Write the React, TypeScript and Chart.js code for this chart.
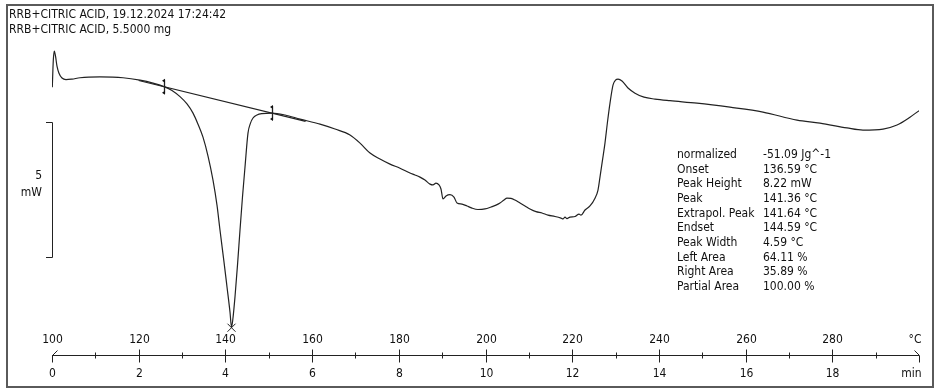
import React, { useEffect, useRef } from 'react';
import { Chart, registerables } from 'chart.js';

Chart.register(...registerables);

// ---- data (temperature in °C, heat flow in mW, endothermic down) ----
const temperatureC = [
  100.07, 100.3, 100.53, 100.81, 101.15, 101.61, 102.31, 103.23, 104.61, 106.46,
  111.07, 116.38, 120.3, 123.3, 125.84, 127.68, 129.53, 131.14, 132.53, 133.68,
  134.83, 135.99, 137.14, 138.06, 138.75, 139.68, 140.37, 141.06, 141.41, 141.75,
  142.21, 142.79, 143.37, 143.94, 144.52, 145.21, 145.79, 146.37, 147.29, 148.44,
  150.75, 153.75, 157.21, 161.82, 165.28, 168.74, 171.05, 173.36, 175.66, 177.97,
  180.28, 182.58, 183.74, 184.89, 186.04, 187.2, 187.89, 188.58, 189.27, 189.73,
  190.2, 190.89, 191.81, 192.73, 193.43, 194.58, 195.73, 196.89, 198.27, 199.88,
  201.27, 202.42, 203.34, 204.27, 204.96, 205.88, 206.8, 207.96, 209.11, 210.26,
  211.65, 213.03, 214.42, 216.03, 217.42, 217.88, 218.34, 218.8, 219.49, 220.65,
  221.57, 222.03, 222.95, 224.1, 225.26, 225.95, 226.41, 226.99, 227.56, 228.14,
  228.72, 229.41, 229.99, 230.57, 231.49, 232.87, 234.49, 236.57, 239.1, 242.56,
  248.79, 256.4, 264.01, 271.86, 277.16, 283.39, 287.08, 291.7, 294.93, 297.92,
  300.0,
];
const heatFlowMW = [
  9.81, 10.81, 11.15, 10.96, 10.59, 10.33, 10.15, 10.09, 10.11, 10.16,
  10.19, 10.16, 10.07, 9.96, 9.83, 9.69, 9.46, 9.19, 8.85, 8.44,
  7.96, 7.26, 6.37, 5.44, 4.52, 3.33, 2.41, 1.48, 0.92, 1.26,
  2.04, 3.22, 4.52, 5.74, 6.85, 8.11, 8.48, 8.67, 8.78, 8.83,
  8.85, 8.78, 8.63, 8.44, 8.26, 8.04, 7.74, 7.37, 7.15, 6.96,
  6.81, 6.63, 6.56, 6.48, 6.37, 6.22, 6.19, 6.26, 6.19, 6.04,
  5.67, 5.78, 5.83, 5.74, 5.52, 5.48, 5.41, 5.33, 5.28, 5.3,
  5.37, 5.44, 5.52, 5.63, 5.7, 5.69, 5.63, 5.52, 5.41, 5.3,
  5.2, 5.15, 5.07, 5.02, 4.96, 4.93, 5.0, 4.94, 5.0, 5.02,
  5.11, 5.07, 5.26, 5.41, 5.7, 6.0, 6.48, 7.11, 7.74, 8.52,
  9.22, 9.89, 10.07, 10.11, 10.04, 9.78, 9.59, 9.44, 9.37, 9.31,
  9.22, 9.07, 8.89, 8.59, 8.48, 8.3, 8.22, 8.26, 8.41, 8.7,
  8.94,
];

// integration baseline and limits
const baselineT = [120, 158.5];
const baselineMW = [10.06, 8.545];
const limitT = [125.84, 150.75];
const limitMW = [9.83, 8.85];
const peakT = 141.41;
const peakMW = 0.9;

// axis ticks
const tempMin = 100;
const tempMax = 300;
const tempTickStep = 10;
const tempLabels = ['100', '120', '140', '160', '180', '200', '220', '240', '260', '280', '°C'];
const minuteLabels = ['0', '2', '4', '6', '8', '10', '12', '14', '16', '18', 'min'];
const heatingRate = 10; // K/min

// scale bar
const scaleBarStart = 3.52;
const scaleBarSpan = 5;
const scaleBarLabel = ['5', 'mW'];

// texts
const headerLines = ['RRB+CITRIC ACID, 19.12.2024 17:24:42', 'RRB+CITRIC ACID, 5.5000 mg'];
const resultNames = ['normalized', 'Onset', 'Peak Height', 'Peak', 'Extrapol. Peak', 'Endset', 'Peak Width', 'Left Area', 'Right Area', 'Partial Area'];
const resultValues = ['-51.09 Jg^-1', '136.59 °C', '8.22 mW', '141.36 °C', '141.64 °C', '144.59 °C', '4.59 °C', '64.11 %', '35.89 %', '100.00 %'];

const FONT = '12px Tahoma, "DejaVu Sans Condensed", "Liberation Sans", sans-serif';
const INK = '#222';

const decorPlugin = {
  id: 'decor',
  afterDraw(chart: any) {
    const { ctx, chartArea } = chart;
    const xs = chart.scales.x;
    const ys = chart.scales.y;
    ctx.save();
    // frame
    ctx.strokeStyle = '#5a5a5a';
    ctx.lineWidth = 2;
    ctx.strokeRect(7, 5, 926, 382);

    ctx.fillStyle = '#111';
    ctx.font = FONT;
    ctx.textBaseline = 'middle';
    ctx.textAlign = 'left';
    headerLines.forEach((t, i) => ctx.fillText(t, 9, 15 + i * 15));

    // results table
    resultNames.forEach((t, i) => {
      const yy = 155 + i * 14.65;
      ctx.fillText(t, 677, yy);
      ctx.fillText(resultValues[i], 763, yy);
    });

    // scale bar
    const sbx = xs.getPixelForValue(tempMin);
    const sbTop = ys.getPixelForValue(scaleBarStart + scaleBarSpan);
    const sbBot = ys.getPixelForValue(scaleBarStart);
    ctx.strokeStyle = INK;
    ctx.lineWidth = 1;
    ctx.beginPath();
    ctx.moveTo(sbx - 6, Math.round(sbTop) + 0.5);
    ctx.lineTo(sbx + 0.5, Math.round(sbTop) + 0.5);
    ctx.lineTo(sbx + 0.5, Math.round(sbBot) + 0.5);
    ctx.lineTo(sbx - 6, Math.round(sbBot) + 0.5);
    ctx.stroke();
    const mid = (sbTop + sbBot) / 2;
    ctx.textAlign = 'right';
    ctx.fillText(scaleBarLabel[0], sbx - 10, mid - 14);
    ctx.fillText(scaleBarLabel[1], sbx - 10, mid + 3);

    // x axis
    const axisY = Math.round(chartArea.bottom + 3) + 0.5;
    const x0 = xs.getPixelForValue(tempMin);
    const x1 = xs.getPixelForValue(tempMax);
    ctx.beginPath();
    ctx.moveTo(x0, axisY);
    ctx.lineTo(x1, axisY);
    ctx.stroke();
    let li = 0;
    for (let t = tempMin; t <= tempMax; t += tempTickStep) {
      const px = Math.round(xs.getPixelForValue(t)) + 0.5;
      const major = (t - tempMin) % (2 * tempTickStep) === 0;
      ctx.beginPath();
      if (t === tempMin || t === tempMax) {
        ctx.moveTo(px, axisY);
        ctx.lineTo(px, axisY + 7);
        const dir = t === tempMin ? 1 : -1;
        ctx.moveTo(px, axisY);
        ctx.lineTo(px + dir * 5, axisY - 5);
      } else if (major) {
        ctx.moveTo(px, axisY - 6);
        ctx.lineTo(px, axisY + 7);
      } else {
        ctx.moveTo(px, axisY - 3);
        ctx.lineTo(px, axisY + 3);
      }
      ctx.stroke();
      if (major) {
        ctx.textAlign = t === tempMax ? 'right' : 'center';
        const lx = t === tempMax ? px + 2 : px;
        ctx.fillText(tempLabels[li], lx, axisY - 16);
        // minute label at same position (time = (T - start) / heatingRate)
        const m = (t - tempMin) / heatingRate;
        const mlabel = minuteLabels[li] ?? String(m);
        ctx.fillText(mlabel, lx, axisY + 18);
        li++;
      }
    }

    // integration limit markers
    limitT.forEach((t, i) => {
      const px = Math.round(xs.getPixelForValue(t)) + 0.5;
      const py = ys.getPixelForValue(limitMW[i]);
      ctx.lineWidth = 1.3;
      ctx.beginPath();
      ctx.moveTo(px, py - 7);
      ctx.lineTo(px, py + 7);
      ctx.stroke();
      ctx.fillStyle = '#111';
      [-6, 6].forEach((d) => {
        ctx.beginPath();
        ctx.moveTo(px + 0.5, py + d - 2);
        ctx.lineTo(px - 2.5, py + d);
        ctx.lineTo(px + 0.5, py + d + 2);
        ctx.closePath();
        ctx.fill();
      });
    });

    // peak cross
    const cx = xs.getPixelForValue(peakT);
    const cy = ys.getPixelForValue(peakMW);
    ctx.lineWidth = 1;
    ctx.beginPath();
    ctx.moveTo(cx - 4, cy - 4);
    ctx.lineTo(cx + 4, cy + 4);
    ctx.moveTo(cx + 4, cy - 4);
    ctx.lineTo(cx - 4, cy + 4);
    ctx.stroke();

    ctx.restore();
  },
};

export default function App() {
  const canvasRef = useRef<HTMLCanvasElement | null>(null);

  useEffect(() => {
    document.body.style.margin = '0';
    const canvas = canvasRef.current;
    if (!canvas) return;
    const chart = new Chart(canvas, {
      type: 'line',
      data: {
        datasets: [
          {
            data: temperatureC.map((t, i) => ({ x: t, y: heatFlowMW[i] })),
            borderColor: INK,
            borderWidth: 1.2,
            pointRadius: 0,
            cubicInterpolationMode: 'monotone',
            fill: false,
          },
          {
            data: baselineT.map((t, i) => ({ x: t, y: baselineMW[i] })),
            borderColor: INK,
            borderWidth: 1.2,
            pointRadius: 0,
            tension: 0,
            fill: false,
          },
        ],
      },
      options: {
        animation: false,
        responsive: false,
        maintainAspectRatio: false,
        devicePixelRatio: 1,
        layout: { padding: { left: 52, right: 21, top: 20, bottom: 38 } },
        plugins: { legend: { display: false }, tooltip: { enabled: false } },
        scales: {
          x: { type: 'linear', min: tempMin, max: tempMax, display: false },
          y: { type: 'linear', min: 0, max: 12.3, display: false },
        },
      },
      plugins: [decorPlugin],
    });
    return () => chart.destroy();
  }, []);

  return (
    <div style={{ width: 940, height: 390, background: '#fff' }}>
      <canvas ref={canvasRef} width={940} height={390} style={{ display: 'block' }} />
    </div>
  );
}
